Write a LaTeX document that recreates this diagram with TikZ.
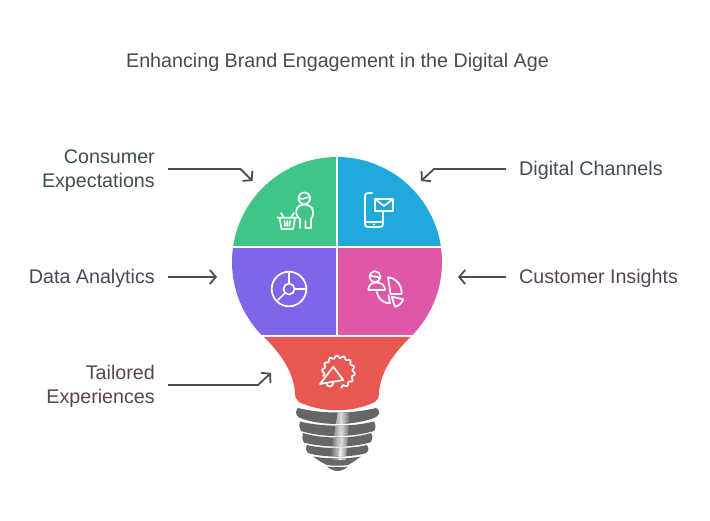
\documentclass[tikz,border=0pt]{standalone}
\usepackage{fontspec}
\setmainfont{Liberation Sans}
\usetikzlibrary{arrows.meta}
\definecolor{bulbgreen}{HTML}{3FC585}
\definecolor{bulbblue}{HTML}{1FA9DC}
\definecolor{bulbpurple}{HTML}{7F66E8}
\definecolor{bulbpink}{HTML}{DE57A8}
\definecolor{bulbred}{HTML}{E95752}
\definecolor{screwgray}{HTML}{666666}
\definecolor{connector}{HTML}{4D4D4D}
\definecolor{titletext}{HTML}{4A4A4A}
\definecolor{consumertext}{HTML}{3E4F47}
\definecolor{analyticstext}{HTML}{48465F}
\definecolor{tailoredtext}{HTML}{5A4444}
\definecolor{digitaltext}{HTML}{3F4D55}
\definecolor{insightstext}{HTML}{5A4255}
\tikzset{
    label style/.style={font=\fontsize{19.7}{24}\selectfont,inner sep=0pt},
    left label/.style={label style,anchor=east,align=right},
    right label/.style={label style,anchor=west,align=left},
    conn/.style={draw=connector,line width=1.8pt,-{Straight Barb[length=6pt,width=14pt,line width=1.8pt]},shorten <=13pt},
    icon/.style={draw=white,line width=1.7pt,line join=round,line cap=round}
}
\begin{document}
\begin{tikzpicture}[x=1pt,y=-1pt]
    \useasboundingbox (0,0) rectangle (710,521);
    \node[label style,text=titletext] (title) at (337.5,62.8) {Enhancing Brand Engagement in the Digital Age};
    \node[left label,text=consumertext] (consumer) at (155,170.8) {Consumer\\Expectations};
    \node[left label,text=analyticstext] (analytics) at (155,278.8) {Data Analytics};
    \node[left label,text=tailoredtext] (tailored) at (155,386.8) {Tailored\\Experiences};
    \node[right label,text=digitaltext] (digital) at (519,170.8) {Digital Channels};
    \node[right label,text=insightstext] (insights) at (519,278.8) {Customer Insights};
    % bulb
    \begin{scope}
        \clip (337,262) circle (105);
        \fill[bulbgreen] (232,157) rectangle (336.2,245.8);
        \fill[bulbblue] (338.2,157) rectangle (442,245.8);
        \fill[bulbpurple] (232,247.8) rectangle (336.2,335.3);
        \fill[bulbpink] (338.2,247.8) rectangle (442,335.3);
    \end{scope}
    \fill[bulbred] (264,337) -- (410.5,337) .. controls (392,355) and (381,372) .. (379,392)
        .. controls (379,397) and (378,400) .. (375,402) .. controls (352,413) and (322,413) .. (299,402)
        .. controls (296,400) and (295,397) .. (295,392) .. controls (293,372) and (282,355) .. (264,337) -- cycle;
    % screw
    \def\screwpath{
        (298,408) .. controls (322,414) and (352,414) .. (376,408) .. controls (379,410) and (380,412) .. (379,414)
        .. controls (378,416) and (376,417) .. (374,418) .. controls (352,426) and (322,426) .. (300,418)
        .. controls (298,417) and (296,415) .. (296,413) .. controls (296,411) and (297,409) .. (298,408) -- cycle
        (300,421.5) .. controls (322,427) and (352,427) .. (374,421.5) .. controls (376,425) and (376,428) .. (374,431)
        .. controls (352,437.7) and (322,437.7) .. (301,431) .. controls (299,428) and (299,425) .. (300,421.5) -- cycle
        (303,433) .. controls (322,439) and (352,439) .. (371,433) .. controls (373,436) and (373,440) .. (370,442.5)
        .. controls (352,447.8) and (322,447.8) .. (304,442.5) .. controls (302,440) and (302,436) .. (303,433) -- cycle
        (307,445) .. controls (322,449) and (352,449) .. (367,445) .. controls (369,448) and (369,451) .. (366,453)
        .. controls (352,457.7) and (322,457.7) .. (308,453) .. controls (306,451) and (305,448) .. (307,445) -- cycle
        (313,456.5) .. controls (328,459) and (346,459) .. (361,456.5) .. controls (356,460) and (352,463) .. (348,465)
        .. controls (342,466) and (332,466) .. (327,465) .. controls (322,463) and (318,460) .. (313,456.5) -- cycle
        (327,466.5) .. controls (332,467.5) and (342,467.5) .. (348,466.5) .. controls (344,470) and (340,471) .. (337.5,471)
        .. controls (335,471) and (331,470) .. (327,466.5) -- cycle
    }
    \fill[screwgray] \screwpath;
    \begin{scope}
        \clip \screwpath;
        \shade[left color=screwgray,right color=white!95!screwgray] (338,410) -- (343,410) -- (339,460) -- (330,460) -- cycle;
        \shade[left color=white!95!screwgray,right color=screwgray] (343,410) -- (350,410) -- (346,460) -- (339,460) -- cycle;
    \end{scope}
    % icons
    \draw[icon] (304.3,198.3) circle (5.8);
    \draw[icon] (298.8,198) .. controls (303,201) and (306,196) .. (310,197.5);
    \draw[icon] (300,228) -- (300,219) .. controls (296,216) and (295.5,212) .. (297,208) .. controls (300,203.5) and (309,203.5) .. (312,208)
        .. controls (314,212) and (313,217) .. (311,219) -- (311,228) -- (305.5,228) -- (305.5,221);
    \draw[icon] (277.5,217.7) -- (297,217.7) (279.5,218) -- (281.5,229) -- (293,229) -- (295,218);
    \draw[icon] (281,213) -- (284,217.7) (294,213) -- (291,217.7);
    \draw[icon] (284.5,221) -- (285,226) (287.3,221) -- (287.3,226) (290,221) -- (289.5,226);
    \draw[icon] (372,193) -- (368,193) .. controls (366,193) and (365,194) .. (365,196) -- (365,224)
        .. controls (365,226) and (366,227) .. (368,227) -- (380,227) .. controls (382,227) and (383,226) .. (383,224) -- (383,212);
    \draw[icon] (365,221.7) -- (383,221.7);
    \fill[white] (374,224.4) circle (1.1);
    \draw[icon] (375,199) rectangle (393,211) (375.5,199.5) -- (384,206) -- (392.5,199.5);
    \draw[icon] (289,289) circle (17.3) (289,289) circle (5.5);
    \draw[icon] (289,283.5) -- (289,271.7) (294.5,289) -- (306.3,289) (285.1,292.9) -- (278,300);
    \draw[icon] (375,276.7) circle (5.5);
    \draw[icon] (370,275) .. controls (373,278) and (377,275) .. (380,278.5);
    \draw[icon] (368.3,290) -- (385,290) .. controls (385,285) and (381,282.5) .. (376.5,282.5) .. controls (372,282.5) and (368.3,285) .. (368.3,290) -- cycle;
    \draw[icon] (388,277.3) .. controls (396,278) and (402,285) .. (401.7,294) -- (390.5,294) -- cycle;
    \draw[icon] (376.7,292) .. controls (378,299) and (384,303.5) .. (390,303.3) -- (388.5,295);
    \draw[icon] (391.7,296.7) -- (403.3,299.3) .. controls (402,303) and (399,306) .. (395,306.7) -- cycle;
    \draw[icon,samples=120,domain=165:440,smooth,variable=\t] plot ({338.5+(15.3+1.2*sin(14*\t))*cos(\t)},{372+(15.3+1.2*sin(14*\t))*sin(\t)});
    \draw[icon] (320,384) -- (333.3,366.7) -- (343.3,380) -- cycle;
    \draw[icon] (326.5,383) .. controls (327,388) and (333,388) .. (333.5,382);
    % connectors
    \coordinate (consumer bend) at (240.5,169);
    \coordinate (consumer tip) at (252.5,181);
    \coordinate (analytics tip) at (217,277);
    \coordinate (tailored bend) at (258,385);
    \coordinate (tailored tip) at (271,373);
    \coordinate (digital bend) at (434,169);
    \coordinate (digital tip) at (421,181);
    \coordinate (insights tip) at (458,277);
    \draw[conn] (consumer.east |- consumer bend) -- (consumer bend) -- (consumer tip);
    \draw[conn] (analytics.east |- analytics tip) -- (analytics tip);
    \draw[conn] (tailored.east |- tailored bend) -- (tailored bend) -- (tailored tip);
    \draw[conn] (digital.west |- digital bend) -- (digital bend) -- (digital tip);
    \draw[conn] (insights.west |- insights tip) -- (insights tip);
\end{tikzpicture}
\end{document}
